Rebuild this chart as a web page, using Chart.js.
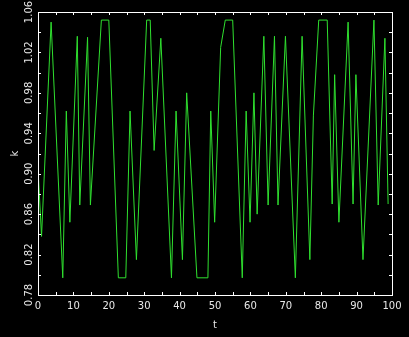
<!DOCTYPE html>
<html>
<head>
<meta charset="utf-8">
<script src="https://cdn.jsdelivr.net/npm/chart.js@4/dist/chart.umd.min.js"></script>
<style>
  html, body { margin: 0; padding: 0; background: #000; }
  #wrap { width: 409px; height: 337px; }
</style>
</head>
<body>
<div id="wrap"><canvas id="myChart"></canvas></div>
<script>
// t positions of the line vertices and their k values
let tValues = [0, 1.0, 3.7, 7.0, 8.0, 9.0, 11.1, 11.8, 14.0, 14.8, 17.9, 20.0, 22.7, 24.8, 26.0, 27.8,
    30.7, 31.7, 32.8, 34.7, 37.7, 39.0, 40.8, 42.0, 44.9, 48.0, 48.8, 49.9, 51.6, 52.9, 55.0, 57.7,
    58.8, 59.9, 61.0, 61.9, 63.8, 65.0, 66.8, 67.8, 69.9, 72.7, 74.6, 76.8, 77.8, 79.3, 81.7, 83.1,
    83.8, 85.0, 87.6, 89.0, 89.8, 91.8, 94.9, 96.1, 98.0, 98.9];
let kValues = [0.905, 0.838, 1.050, 0.797, 0.962, 0.852, 1.036, 0.869, 1.035, 0.869, 1.052, 1.052, 0.797, 0.797, 0.962, 0.815,
    1.052, 1.052, 0.923, 1.034, 0.797, 0.962, 0.815, 0.980, 0.797, 0.797, 0.962, 0.852, 1.025, 1.052, 1.052, 0.797,
    0.962, 0.852, 0.980, 0.860, 1.036, 0.869, 1.036, 0.869, 1.036, 0.797, 1.036, 0.815, 0.958, 1.052, 1.052, 0.870,
    0.998, 0.852, 1.050, 0.870, 0.998, 0.815, 1.052, 0.869, 1.034, 0.870];

let xTickLabels = ['0', '10', '20', '30', '40', '50', '60', '70', '80', '90', '100'];
let yTickLabels = ['0.78', '0.82', '0.86', '0.90', '0.94', '0.98', '1.02', '1.06'];

let points = tValues.map((t, i) => ({ x: t, y: kValues[i] }));

// white box round the plot with small ticks pointing inwards on all four sides
const framePlugin = {
    id: 'frame',
    afterDraw(chart) {
        const ctx = chart.ctx;
        const a = chart.chartArea;
        const xs = chart.scales.x;
        const ys = chart.scales.y;
        ctx.save();
        ctx.strokeStyle = '#ffffff';
        ctx.lineWidth = 1;
        ctx.strokeRect(Math.round(a.left) + 0.5, Math.round(a.top) + 0.5,
            Math.round(a.right - a.left), Math.round(a.bottom - a.top));
        ctx.beginPath();
        xs.ticks.forEach(tk => {
            const px = Math.round(xs.getPixelForValue(tk.value)) + 0.5;
            ctx.moveTo(px, a.bottom); ctx.lineTo(px, a.bottom - 3);
            ctx.moveTo(px, a.top); ctx.lineTo(px, a.top + 3);
        });
        ys.ticks.forEach(tk => {
            const py = Math.round(ys.getPixelForValue(tk.value)) + 0.5;
            ctx.moveTo(a.left, py); ctx.lineTo(a.left + 3, py);
            ctx.moveTo(a.right, py); ctx.lineTo(a.right - 3, py);
        });
        ctx.stroke();
        ctx.restore();
    }
};

let myChart = document.getElementById('myChart').getContext('2d');

let massChart = new Chart(myChart, {
    type: 'line',
    data: {
        datasets: [{
            data: points,
            borderColor: '#2fe02f',
            borderWidth: 1,
            pointRadius: 0,
            tension: 0,
            fill: false
        }]
    },
    options: {
        responsive: true,
        maintainAspectRatio: false,
        animation: false,
        plugins: {
            legend: { display: false },
            tooltip: { enabled: false }
        },
        layout: {
            padding: { left: 0, right: 17, top: 12, bottom: 0 }
        },
        scales: {
            x: {
                type: 'linear',
                min: 0,
                max: 100,
                afterFit: (scale) => { scale.height = 42; },
                grid: { display: false, drawTicks: false },
                border: { display: false },
                ticks: {
                    stepSize: 5,
                    padding: 5,
                    maxRotation: 0,
                    autoSkip: false,
                    color: '#e8e8e8',
                    font: { family: 'DejaVu Sans', size: 10 },
                    callback: (v) => xTickLabels.includes(String(v)) ? String(v) : ''
                },
                title: {
                    display: true,
                    text: 't',
                    color: '#e8e8e8',
                    font: { family: 'DejaVu Sans', size: 10 },
                    padding: { top: 0, bottom: 6 }
                }
            },
            y: {
                min: 0.78,
                max: 1.06,
                afterFit: (scale) => { scale.width = 38; },
                grid: { display: false, drawTicks: false },
                border: { display: false },
                ticks: {
                    stepSize: 0.02,
                    minRotation: 90,
                    maxRotation: 90,
                    crossAlign: 'center',
                    padding: -3,
                    autoSkip: false,
                    color: '#e8e8e8',
                    font: { family: 'DejaVu Sans', size: 10 },
                    callback: (v) => {
                        const s = Number(v).toFixed(2);
                        return yTickLabels.includes(s) ? s : '';
                    }
                },
                title: {
                    display: true,
                    text: 'k',
                    color: '#e8e8e8',
                    font: { family: 'DejaVu Sans', size: 10 },
                    padding: { top: 9, bottom: 0 }
                }
            }
        }
    },
    plugins: [framePlugin]
});
</script>
</body>
</html>
